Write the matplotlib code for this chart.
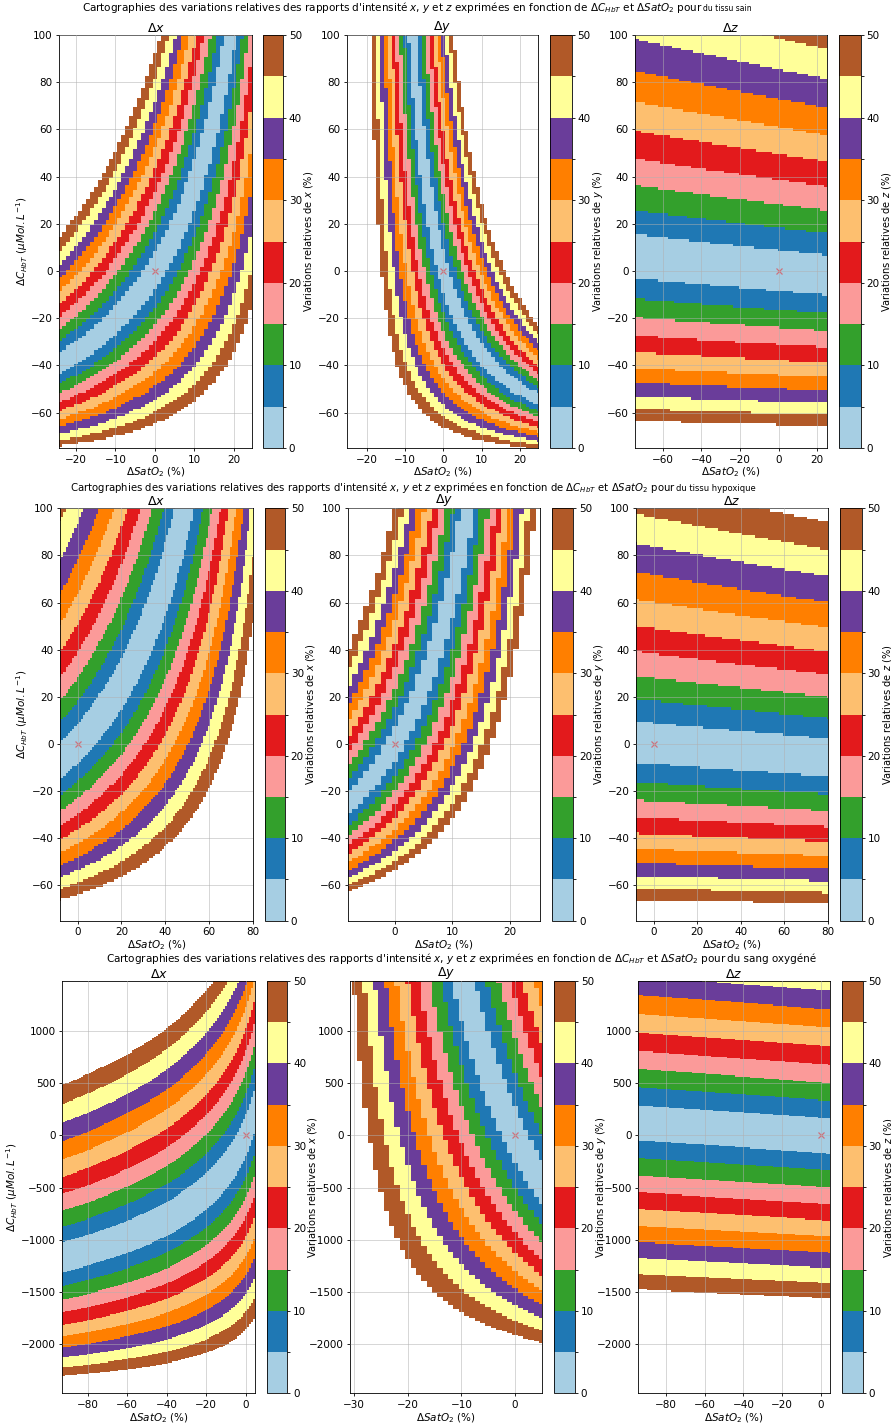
import numpy as np
import matplotlib
matplotlib.use("Agg")
import matplotlib.pyplot as plt
from matplotlib.colors import BoundaryNorm, ListedColormap

# one entry per map, row by row: tissu sain (x, y, z), tissu hypoxique (x, y, z), sang oxygene (x, y, z)
panels = ['x', 'y', 'z', 'x', 'y', 'z', 'x', 'y', 'z']
# model of the relative variation of each intensity ratio, fitted on the reference maps
# g = a*s'*c' + b*s' + k*c'   with c' = K*ln(1 + dC/K), s' = -V*ln(1 - dSat/V)
# variation (%) = 100*(exp(p*g) - 1)/p
p_shape = [-1.25, 0.0, -0.65, 1.0, -0.2, -0.85, -1.35, 1.05, -1.10]
K_c = [83, 120, 100, 500, 100, 95, 2550, 8000, 2500]
V_s = [36.6, 1e5, 1e5, 1e5, 85.2, 1e5, 12, 40, 1e5]
a_sc = [-2.0833e-05, -2.1872e-04, -1.1079e-06, 5.6518e-05, 9.5287e-05, -1.0631e-06, -2.337e-06, -7.095e-06, 1.0684e-07]
b_s = [0.016657, -0.031001, -0.00044176, 0.0059392, 0.028334, -0.00044394, 0.011434, -0.019344, -0.00038443]
k_c = [-0.0062664, -0.0052095, -0.0057552, -0.0059366, -0.0068902, -0.005736, -0.00025086, -0.00018387, -0.00029888]

xlims = [(-24.2, 24.6), (-25.2, 24.8), (-74.5, 25),
         (-8.1, 80), (-8.1, 25.2), (-8.1, 80),
         (-92.8, 4.7), (-30.8, 5.0), (-94.1, 4.6)]
ylims = [(-75, 100), (-75, 100), (-2470, 1480)]
c_step = [1, 1, 10]
ref_point = (0, 0)
levels = np.arange(0, 55, 5)

title_main = (r"Cartographies des variations relatives des rapports d'intensité $x$, $y$ et $z$ exprimées "
              r"en fonction de $\Delta C_{HbT}$ et $\Delta SatO_2$ pour ")
title_end = ["du tissu sain", "du tissu hypoxique", "du sang oxygéné"]


def variation(S, C, i):
    p, K, V = p_shape[i], K_c[i], V_s[i]
    ok = (1 + C / K > 0) & (1 - S / V > 0)
    cp = K * np.log(np.clip(1 + C / K, 1e-9, None))
    sp = -V * np.log(np.clip(1 - S / V, 1e-9, None))
    g = a_sc[i] * sp * cp + b_s[i] * sp + k_c[i] * cp
    d = g if p == 0 else np.expm1(np.clip(p * g, -30, 30)) / p
    d = np.abs(d) * 100
    return np.ma.masked_where((d > 50) | ~ok, d)


W, H = 891, 1423
plt.rcParams.update({
    'font.size': 7.5, 'axes.linewidth': 0.6,
    'xtick.major.size': 2.5, 'ytick.major.size': 2.5, 'xtick.major.width': 0.6, 'ytick.major.width': 0.6,
    'xtick.major.pad': 2.2, 'ytick.major.pad': 2.2, 'grid.linewidth': 0.6,
    'axes.titlepad': 2.5, 'axes.labelpad': 0.8,
})
fig = plt.figure(figsize=(W / 100, H / 100), dpi=100)


def px(x0, y0, x1, y1):
    return [x0 / W, 1 - y1 / H, (x1 - x0) / W, (y1 - y0) / H]


cmap = ListedColormap(plt.get_cmap('Paired')((levels[:-1] + 2.5) / 50))
norm = BoundaryNorm(levels, cmap.N)

# pixel layout of the three stacked figures
row_y = [(35, 448), (508.3, 920.7), (981, 1393.3)]
ax_x = [[(59.3, 252), (346.7, 538.3), (635, 826.7)],
        [(60, 252.7), (348.3, 540), (636, 827.7)],
        [(62.3, 255), (350, 541.7), (638.3, 830)]]
cb_x = [[(263, 283), (550, 571.7), (839, 860.7)],
        [(265, 285), (552.3, 573.3), (840, 861.7)],
        [(266.7, 287.3), (554.3, 575), (841.7, 862.7)]]
xstep = [10, 10, 20, 20, 10, 20, 20, 10, 20]

for i in range(9):
    r, k = divmod(i, 3)
    name = panels[i]
    x0, x1 = xlims[i]
    sg = np.arange(np.floor(x0), np.ceil(x1) + 1, 1.0)
    cg = np.arange(ylims[r][0], ylims[r][1] + c_step[r], c_step[r])
    S, C = np.meshgrid(sg, cg)

    ax = fig.add_axes(px(ax_x[r][k][0], row_y[r][0], ax_x[r][k][1], row_y[r][1]))
    m = ax.pcolormesh(S, C, variation(S, C, i), cmap=cmap, norm=norm, shading='nearest')
    ax.plot(*ref_point, 'x', color='red', alpha=0.45, ms=5, mew=0.9)
    ax.set_xlim(x0, x1)
    ax.set_ylim(*ylims[r])
    ax.xaxis.set_major_locator(plt.MultipleLocator(xstep[i]))
    ax.yaxis.set_major_locator(plt.MultipleLocator(500 if r == 2 else 20))
    ax.grid(True, color='#b0b0b0', alpha=0.6)
    ax.set_axisbelow(False)
    ax.set_title(rf'$\Delta {name}$')
    ax.set_xlabel(r'$\Delta SatO_2$ (%)')
    if k == 0:
        ax.set_ylabel(r'$\Delta C_{HbT}$ ($\mu Mol.L^{-1}$)')

    cax = fig.add_axes(px(cb_x[r][k][0], row_y[r][0], cb_x[r][k][1], row_y[r][1]))
    cb = fig.colorbar(m, cax=cax, ticks=levels[::2])
    cb.outline.set_linewidth(0.6)
    cb.ax.tick_params(pad=1.6)
    cb.set_label(f'Variations relatives de ${name}$ (%)', labelpad=0, fontsize=7.1)

# row titles: the end of the first two is written smaller
renderer = fig.canvas.get_renderer()
title_x = [82, 70, 106]
title_y = [11, 491, 962]
title_size = [7.45, 7.25, 7.45]
end_size = [5.5, 6.0, 7.45]
for r in range(3):
    yb = 1 - title_y[r] / H
    t = fig.text(title_x[r] / W, yb, title_main, fontsize=title_size[r], ha='left', va='baseline')
    bb = t.get_window_extent(renderer)
    fig.text(bb.x1 / W, yb, title_end[r], fontsize=end_size[r], ha='left', va='baseline')

fig.savefig('out.png', dpi=100)
